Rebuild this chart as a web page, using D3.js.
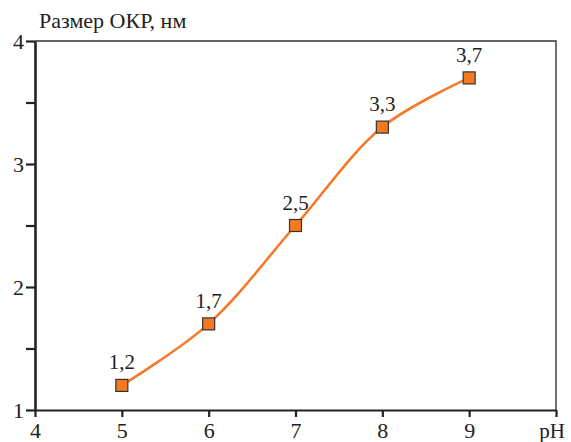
<!DOCTYPE html>
<html>
<head>
<meta charset="utf-8">
<script src="https://cdn.jsdelivr.net/npm/d3@7"></script>
<style>
  body { margin: 0; background: #fff; }
  svg text { fill: #222; }
</style>
</head>
<body>
<svg id="chart" width="571" height="442"></svg>
<script>
// data
const ph = [5, 6, 7, 8, 9];
const size = [1.2, 1.7, 2.5, 3.3, 3.7];
const pointLabels = ["1,2", "1,7", "2,5", "3,3", "3,7"];
const xTicks = [4, 5, 6, 7, 8, 9, 10];
const yTicks = [1, 1.5, 2, 2.5, 3, 3.5, 4];

const svg = d3.select("#chart");
const plotLeft = 35, plotRight = 556, plotTop = 41, plotBottom = 410;
const serif = "Liberation Serif";

svg.attr("font-family", serif);

let x = d3.scaleLinear().domain([4, 10]).range([plotLeft, plotRight]);
let y = d3.scaleLinear().domain([1, 4]).range([plotBottom, plotTop]);

// frame (top and right, thin)
svg.append("path")
    .attr("d", "M" + plotLeft + "," + plotTop + "H" + plotRight + "V" + plotBottom)
    .attr("fill", "none")
    .attr("stroke", "#333")
    .attr("stroke-width", 1.4);

// x axis
let xAxis = svg.append("g")
    .attr("transform", "translate(0," + plotBottom + ")")
    .call(d3.axisBottom(x).tickValues(xTicks).tickSize(7).tickSizeOuter(0)
        .tickFormat(d => d === 10 ? "" : d))
    .attr("font-family", serif);
xAxis.select(".domain").attr("stroke", "#222").attr("stroke-width", 2.2);
xAxis.selectAll(".tick line").attr("stroke", "#222").attr("stroke-width", 2.2);
xAxis.selectAll(".tick text")
    .attr("font-size", "22px")
    .attr("fill", "#222")
    .attr("y", 12)
    .attr("dy", "0.71em");

svg.append("text")
    .attr("x", plotRight - 4)
    .attr("y", 438)
    .attr("text-anchor", "middle")
    .attr("font-size", "21px")
    .text("pH");

// y axis
let yAxis = svg.append("g")
    .attr("transform", "translate(" + plotLeft + ",0)")
    .call(d3.axisLeft(y).tickValues(yTicks).tickSize(9).tickSizeOuter(0)
        .tickFormat(d => Number.isInteger(d) ? d : ""))
    .attr("font-family", serif);
yAxis.select(".domain").attr("stroke", "#222").attr("stroke-width", 2.6);
yAxis.selectAll(".tick line").attr("stroke", "#222").attr("stroke-width", 2.2);
yAxis.selectAll(".tick text")
    .attr("font-size", "22px")
    .attr("fill", "#222")
    .attr("x", -11);

svg.append("text")
    .attr("x", 39)
    .attr("y", 28)
    .attr("font-size", "22px")
    .text("Размер ОКР, нм");

// curve
let line = d3.line()
    .x((d, i) => x(ph[i]))
    .y(d => y(d))
    .curve(d3.curveCatmullRom.alpha(0.5));

svg.append("path")
    .datum(size)
    .attr("d", line)
    .attr("fill", "none")
    .attr("stroke", "#f47a2a")
    .attr("stroke-width", 2.6);

// markers
svg.selectAll(".pt")
    .data(size)
    .enter().append("rect")
    .attr("class", "pt")
    .attr("x", (d, i) => x(ph[i]) - 6)
    .attr("y", d => y(d) - 6)
    .attr("width", 12)
    .attr("height", 12)
    .attr("fill", "#f47a22")
    .attr("stroke", "#333")
    .attr("stroke-width", 1.2);

svg.selectAll(".lbl")
    .data(size)
    .enter().append("text")
    .attr("class", "lbl")
    .attr("x", (d, i) => x(ph[i]))
    .attr("y", d => y(d) - 16)
    .attr("text-anchor", "middle")
    .attr("font-size", "21px")
    .text((d, i) => pointLabels[i]);
</script>
</body>
</html>
